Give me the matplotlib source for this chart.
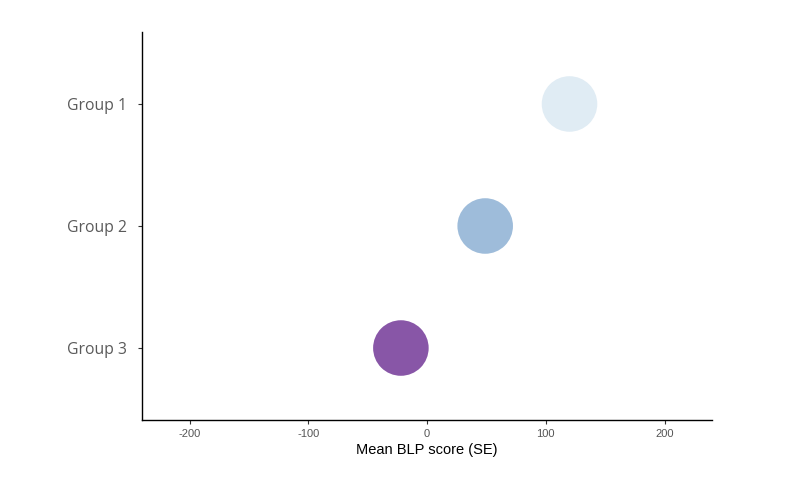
import matplotlib.pyplot as plt

groups = ['Group 1', 'Group 2', 'Group 3']
scores = [120, 49, -22]
colors = ['#e0ecf4', '#9ebcda', '#8856a7']
xticks = [-200, -100, 0, 100, 200]

fig = plt.figure(figsize=(7.92, 4.99), dpi=100)
ax = fig.add_axes([0.1793, 0.1583, 0.7197, 0.7776])

ypos = [3, 2, 1]
ax.scatter(scores, ypos, s=1600, c=colors, edgecolors='none', zorder=3)

ax.set_xlim(-240, 240)
ax.set_ylim(0.41, 3.59)
ax.set_yticks(ypos)
ax.set_yticklabels(groups, fontsize=11.3, color='#5a5a5a', family='Open Sans')
ax.set_xticks(xticks)
ax.set_xticklabels([str(t) for t in xticks], fontsize=8, color='#555555', family='Liberation Sans')
ax.set_xlabel('Mean BLP score (SE)', fontsize=10.5, family='Liberation Sans', labelpad=3)
ax.tick_params(axis='both', length=3, width=0.8, color='#333333')
ax.tick_params(axis='y', pad=8)

for side in ['top', 'right']:
    ax.spines[side].set_visible(False)
for side in ['left', 'bottom']:
    ax.spines[side].set_linewidth(1.0)

plt.savefig('out.png', dpi=100)
